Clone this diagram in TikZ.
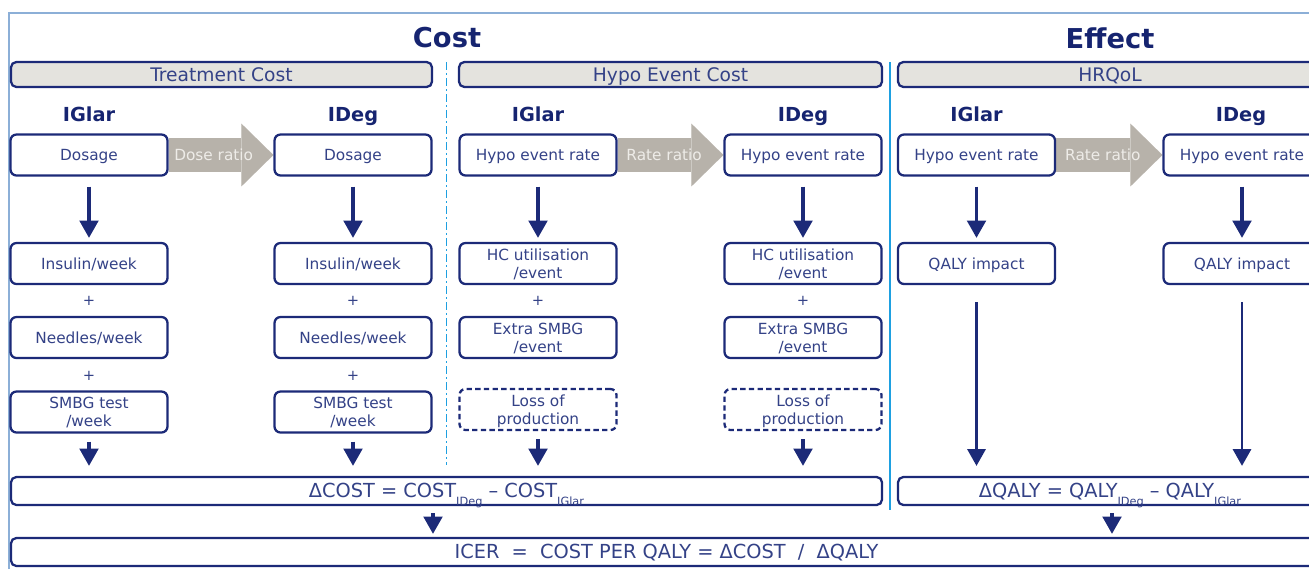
\documentclass[tikz,border=0pt]{standalone}
\usepackage{fontspec}
\setmainfont{DejaVu Sans}
\usetikzlibrary{arrows.meta,calc}
\pgfdeclarelayer{bg}
\pgfsetlayers{bg,main}
\definecolor{navy}{RGB}{28,42,120}
\definecolor{boxtxt}{RGB}{52,66,135}
\definecolor{ttl}{RGB}{22,36,112}
\definecolor{hdrfill}{RGB}{228,227,222}
\definecolor{ratiogray}{RGB}{183,178,170}
\definecolor{ratiotxt}{RGB}{238,236,232}
\definecolor{lblue}{RGB}{30,160,225}
\definecolor{framec}{RGB}{140,175,215}
\newcommand{\lowsub}[1]{\raisebox{-0.75ex}{\fontsize{8.5}{9}\selectfont #1}}
\begin{document}
\begin{tikzpicture}[x=0.75pt,y=-0.75pt,
  box/.style={draw=navy, line width=1.7pt, rounded corners=4.5pt, fill=white, text=boxtxt,
    font=\fontsize{11.5}{13.5}\selectfont, align=center, minimum width=117.75pt,
    minimum height=30.75pt, inner sep=0pt, text depth=-0.15em},
  dbox/.style={box, dash pattern=on 4pt off 2.5pt},
  hdr/.style={draw=navy, line width=1.7pt, rounded corners=4pt, fill=hdrfill, text=boxtxt,
    font=\fontsize{14}{16}\selectfont, minimum height=18.75pt, inner sep=0pt, text depth=-0.17em},
  wide/.style={draw=navy, line width=1.7pt, rounded corners=4pt, fill=white, text=boxtxt,
    font=\fontsize{14.5}{16}\selectfont, minimum height=21pt, inner sep=0pt, text depth=0.1em},
  lbl/.style={text=ttl, font=\bfseries\fontsize{14.5}{16}\selectfont, anchor=base},
  ttlst/.style={text=ttl, font=\bfseries\fontsize{20.5}{24}\selectfont},
  plus/.style={text=boxtxt, font=\fontsize{11}{12}\selectfont},
  arr/.style={draw=navy, line width=2.4pt, -{Triangle[length=13pt,width=14pt]}},
  larr/.style={draw=navy, line width=2pt, -{Triangle[length=12.5pt,width=13.5pt]}},
  ratio/.style={draw=ratiogray, line width=25pt, -{Triangle[length=24pt,width=47pt,line width=0.01pt]}},
  rlbl/.style={text=ratiotxt, font=\fontsize{11.5}{13}\selectfont}
]
\useasboundingbox (0,0) rectangle (1309,569);
% frame
\draw[framec, line width=1.1pt] (9,569) -- (9,13) -- (1309,13);
% separators
\draw[lblue, line width=1.2pt, dash pattern=on 6pt off 2.5pt on 1pt off 2.5pt] (446.5,62) -- (446.5,465);
\draw[lblue, line width=1.3pt] (890,62) -- (890,510);
% titles
\node[ttlst] (tcost) at (447,38) {Cost};
\node[ttlst] (teff) at (1110,38) {Effect};
% headers
\node[hdr, minimum width=315.75pt] (h1) at (221.5,74.5) {Treatment Cost};
\node[hdr, minimum width=317.25pt] (h2) at (670.5,74.5) {Hypo Event Cost};
\node[hdr, minimum width=318pt] (h3) at (1110,74.5) {HRQoL};
% labels
\node[lbl] (l1) at (89,121.5) {IGlar};
\node[lbl] (l2) at (353,121.5) {IDeg};
\node[lbl] (l3) at (538,121.5) {IGlar};
\node[lbl] (l4) at (803,121.5) {IDeg};
\node[lbl] (l5) at (976.5,121.5) {IGlar};
\node[lbl] (l6) at (1241,121.5) {IDeg};
% row 1
\node[box] (d1) at (89,155) {Dosage};
\node[box] (d2) at (353,155) {Dosage};
\node[box] (r1) at (538,155) {Hypo event rate};
\node[box] (r2) at (803,155) {Hypo event rate};
\node[box] (q1) at (976.5,155) {Hypo event rate};
\node[box] (q2) at (1242,155) {Hypo event rate};
% row 2
\node[box] (ins1) at (89,263.5) {Insulin/week};
\node[box] (ins2) at (353,263.5) {Insulin/week};
\node[box] (hc1) at (538,263.5) {HC utilisation\\/event};
\node[box] (hc2) at (803,263.5) {HC utilisation\\/event};
\node[box] (qi1) at (976.5,263.5) {QALY impact};
\node[box] (qi2) at (1242,263.5) {QALY impact};
% plus
\node[plus] (p1) at (89,301) {+};
\node[plus] (p2) at (353,301) {+};
\node[plus] (p3) at (538,301) {+};
\node[plus] (p4) at (803,301) {+};
% row 3
\node[box] (nd1) at (89,337.5) {Needles/week};
\node[box] (nd2) at (353,337.5) {Needles/week};
\node[box] (ex1) at (538,337.5) {Extra SMBG\\/event};
\node[box] (ex2) at (803,337.5) {Extra SMBG\\/event};
\node[plus] (p5) at (89,376) {+};
\node[plus] (p6) at (353,376) {+};
% row 4
\node[box] (sm1) at (89,412) {SMBG test\\/week};
\node[box] (sm2) at (353,412) {SMBG test\\/week};
\node[dbox] (lp1) at (538,409.5) {Loss of\\production};
\node[dbox] (lp2) at (803,409.5) {Loss of\\production};
% totals
\node[wide, minimum width=653.25pt] (dcost) at (446.5,491)
  {ΔCOST = COST\lowsub{IDeg} – COST\lowsub{IGlar}};
\node[wide, minimum width=318pt] (dqaly) at (1110,491)
  {ΔQALY = QALY\lowsub{IDeg} – QALY\lowsub{IGlar}};
\node[wide, minimum width=983.25pt] (icer) at (666.5,552)
  {ICER\ \ =\ \ COST PER QALY = ΔCOST\ \ /\ \ ΔQALY};
% ratio arrows
\begin{pgfonlayer}{bg}
\draw[ratio] (d1.east) -- (d2.west) node[rlbl, pos=0.43] {Dose ratio};
\draw[ratio] (r1.east) -- (r2.west) node[rlbl, pos=0.44] {Rate ratio};
\draw[ratio] (q1.east) -- (q2.west) node[rlbl, pos=0.44] {Rate ratio};
\end{pgfonlayer}
% down arrows
\foreach \a/\b in {d1/ins1,d2/ins2,r1/hc1,r2/hc2,q1/qi1,q2/qi2}
  \draw[arr] ([yshift=-7.5pt]\a.south) -- ([yshift=3pt]\b.north);
\foreach \a in {sm1,sm2,lp1,lp2}
  \draw[arr] ([yshift=-6pt]\a.south) -- ([yshift=7.5pt]\a.south |- dcost.north);
\foreach \a in {qi1,qi2}
  \draw[larr] ([yshift=-12.75pt]\a.south) -- ([yshift=7.5pt]\a.south |- dqaly.north);
\draw[arr] ([xshift=-10.125pt,yshift=-5.25pt]dcost.south) -- ([xshift=-10.125pt,yshift=2.25pt]dcost.south |- icer.north);
\draw[arr] ([xshift=1.5pt,yshift=-5.25pt]dqaly.south) -- ([xshift=1.5pt,yshift=2.25pt]dqaly.south |- icer.north);
\end{tikzpicture}
\end{document}
